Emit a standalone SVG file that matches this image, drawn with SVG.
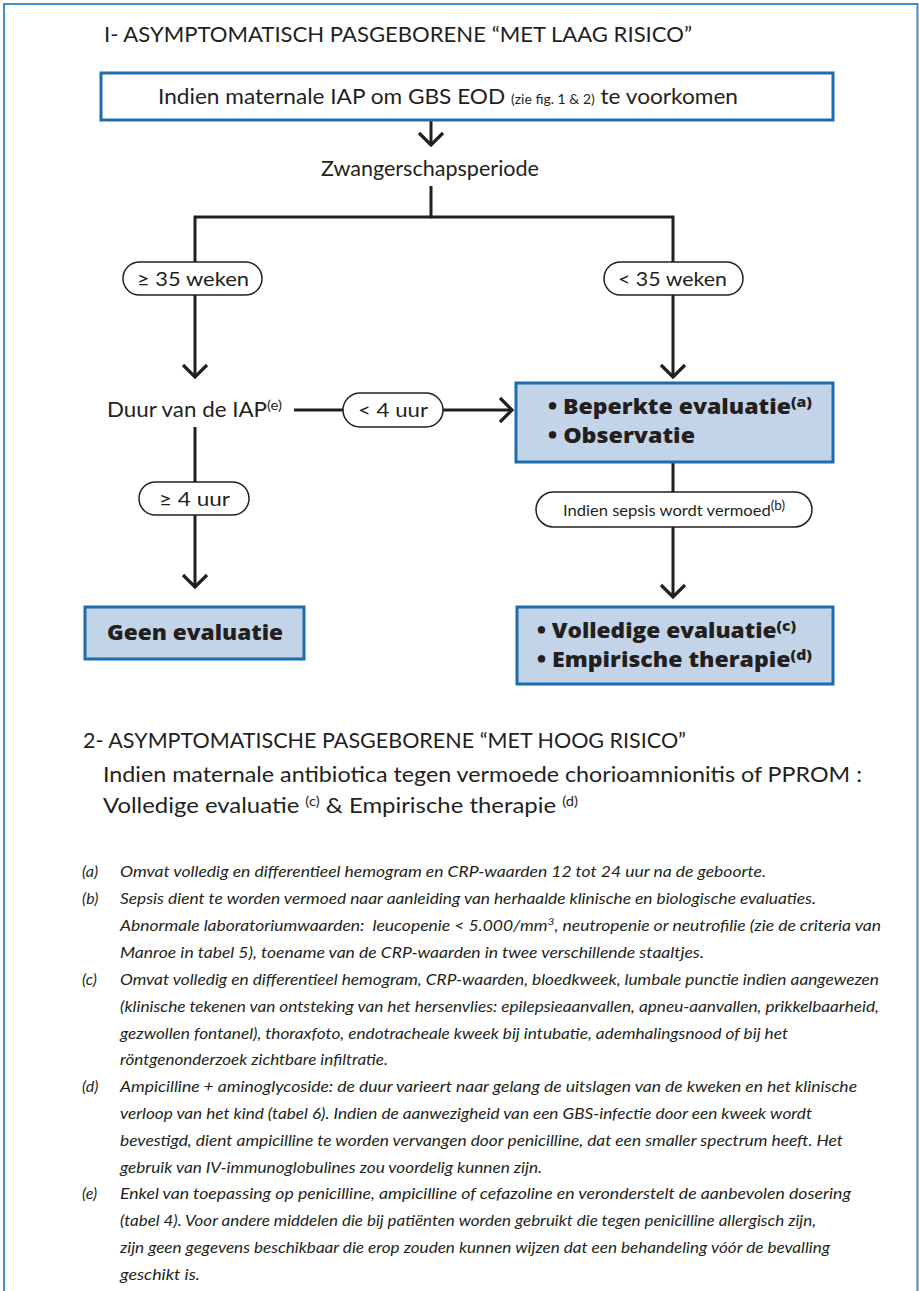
<svg xmlns="http://www.w3.org/2000/svg" width="919" height="1291" viewBox="0 0 919 1291">
<style>
text{font-family:Lato,"Open Sans","Liberation Sans",sans-serif;fill:#231f20}
.t{font-size:21px}
.h{font-size:21px}
.b{font-family:"Open Sans",Lato,sans-serif;font-size:20.5px;font-weight:800}
.p{font-size:20px}
.fn{font-family:"Open Sans","Liberation Sans",sans-serif;font-size:14.5px;font-style:italic;font-weight:400;fill:#333333}
.lb{font-size:16px}
.box{fill:#ffffff;stroke:#1b6db0;stroke-width:3}
.blue{fill:#c3d4e9;stroke:#1b6db0;stroke-width:3}
.pill{fill:#ffffff;stroke:#231f20;stroke-width:1.5}
.ln{fill:none;stroke:#231f20;stroke-width:3}
</style>
<defs>
<marker id="ah" markerUnits="userSpaceOnUse" markerWidth="32" markerHeight="32" viewBox="-16 -16 32 32" refX="0" refY="0" orient="auto">
<path d="M-12,-12 L0,0 L-12,12" fill="none" stroke="#231f20" stroke-width="3.2"/>
</marker>
</defs>
<rect width="919" height="1291" fill="#ffffff"/>
<path d="M4,1291 V4 H917.5 V1291" fill="none" stroke="#3b8fcb" stroke-width="2"/>

<text class="h" x="104" y="42" textLength="588" lengthAdjust="spacingAndGlyphs">I- ASYMPTOMATISCH PASGEBORENE “MET LAAG RISICO”</text>

<g id="connectors">
<path class="ln" d="M431,121 V145" marker-end="url(#ah)"/>
<path class="ln" d="M431,186 V217 H195 V377" marker-end="url(#ah)"/>
<path class="ln" d="M431,217 H673 V377" marker-end="url(#ah)"/>
<path class="ln" d="M294,410 H512" marker-end="url(#ah)"/>
<path class="ln" d="M195,427 V587" marker-end="url(#ah)"/>
<path class="ln" d="M673,463 V597" marker-end="url(#ah)"/>
</g>

<g id="start">
<rect class="box" x="101" y="73" width="732" height="47"/>
<text class="t" x="158" y="104" textLength="580" lengthAdjust="spacingAndGlyphs">Indien maternale IAP om GBS EOD <tspan font-size="13">(zie fig. 1 &amp; 2)</tspan> te voorkomen</text>
</g>

<g id="zwanger">
<text class="t" x="321" y="176" textLength="218" lengthAdjust="spacingAndGlyphs">Zwangerschapsperiode</text>
</g>

<g id="pill-ge35">
<rect class="pill" x="123" y="262" width="139" height="33" rx="16.5"/>
<text class="p" x="137" y="286" textLength="112" lengthAdjust="spacingAndGlyphs">≥ 35 weken</text>
</g>
<g id="pill-lt35">
<rect class="pill" x="604" y="262" width="139" height="33" rx="16.5"/>
<text class="p" x="618" y="286" textLength="109" lengthAdjust="spacingAndGlyphs">&lt; 35 weken</text>
</g>

<g id="duur">
<text class="t" x="107" y="417" textLength="175" lengthAdjust="spacingAndGlyphs">Duur van de IAP<tspan font-size="14" dy="-7">(e)</tspan></text>
</g>

<g id="pill-lt4">
<rect class="pill" x="343" y="393" width="100" height="34" rx="17"/>
<text class="p" x="358" y="417" textLength="70" lengthAdjust="spacingAndGlyphs">&lt; 4 uur</text>
</g>

<g id="beperkte">
<rect class="blue" x="516" y="383" width="317" height="79"/>
<text class="b" x="548" y="414" textLength="264" lengthAdjust="spacingAndGlyphs">• Beperkte evaluatie<tspan font-size="14" dy="-7">(a)</tspan></text>
<text class="b" x="548" y="443" textLength="147" lengthAdjust="spacingAndGlyphs">• Observatie</text>
</g>

<g id="pill-ge4">
<rect class="pill" x="139" y="482" width="110" height="33" rx="16.5"/>
<text class="p" x="159" y="506" textLength="71" lengthAdjust="spacingAndGlyphs">≥ 4 uur</text>
</g>

<g id="pill-sepsis">
<rect class="pill" x="536" y="492" width="276" height="35" rx="17.5"/>
<text x="563" y="516" font-size="16" textLength="222" lengthAdjust="spacingAndGlyphs">Indien sepsis wordt vermoed<tspan font-size="13" dy="-6">(b)</tspan></text>
</g>

<g id="geen">
<rect class="blue" x="85" y="607" width="219" height="52"/>
<text class="b" x="107" y="640" textLength="176" lengthAdjust="spacingAndGlyphs">Geen evaluatie</text>
</g>

<g id="volledige">
<rect class="blue" x="517" y="607" width="316" height="77"/>
<text class="b" x="537" y="638" textLength="259" lengthAdjust="spacingAndGlyphs">• Volledige evaluatie<tspan font-size="14" dy="-7">(c)</tspan></text>
<text class="b" x="537" y="667" textLength="275" lengthAdjust="spacingAndGlyphs">• Empirische therapie<tspan font-size="14" dy="-7">(d)</tspan></text>
</g>

<text class="h" x="83" y="748" textLength="603" lengthAdjust="spacingAndGlyphs">2- ASYMPTOMATISCHE PASGEBORENE “MET HOOG RISICO”</text>
<text class="t" x="103" y="782" textLength="759" lengthAdjust="spacingAndGlyphs">Indien maternale antibiotica tegen vermoede chorioamnionitis of PPROM :</text>
<text class="t" x="103" y="813" textLength="475" lengthAdjust="spacingAndGlyphs">Volledige evaluatie <tspan font-size="13" dy="-7">(c)</tspan><tspan dy="7"> &amp; Empirische therapie </tspan><tspan font-size="13" dy="-7">(d)</tspan></text>

<g id="footnotes" class="fn">
<text class="lb" x="82" y="877">(a)</text>
<text x="120" y="877" textLength="646" lengthAdjust="spacingAndGlyphs">Omvat volledig en differentieel hemogram en CRP-waarden 12 tot 24 uur na de geboorte.</text>
<text class="lb" x="82" y="904">(b)</text>
<text x="120" y="904" textLength="696" lengthAdjust="spacingAndGlyphs">Sepsis dient te worden vermoed naar aanleiding van herhaalde klinische en biologische evaluaties.</text>
<text x="120" y="931" textLength="761" lengthAdjust="spacingAndGlyphs">Abnormale laboratoriumwaarden:&#160; leucopenie &lt; 5.000/mm<tspan font-size="10" dy="-6">3</tspan><tspan dy="6">, neutropenie or neutrofilie (zie de criteria van</tspan></text>
<text x="120" y="958" textLength="584" lengthAdjust="spacingAndGlyphs">Manroe in tabel 5), toename van de CRP-waarden in twee verschillende staaltjes.</text>
<text class="lb" x="82" y="985">(c)</text>
<text x="120" y="985" textLength="759" lengthAdjust="spacingAndGlyphs">Omvat volledig en differentieel hemogram, CRP-waarden, bloedkweek, lumbale punctie indien aangewezen</text>
<text x="120" y="1012" textLength="759" lengthAdjust="spacingAndGlyphs">(klinische tekenen van ontsteking van het hersenvlies: epilepsieaanvallen, apneu-aanvallen, prikkelbaarheid,</text>
<text x="120" y="1039" textLength="668" lengthAdjust="spacingAndGlyphs">gezwollen fontanel), thoraxfoto, endotracheale kweek bij intubatie, ademhalingsnood of bij het</text>
<text x="120" y="1065" textLength="268" lengthAdjust="spacingAndGlyphs">röntgenonderzoek zichtbare infiltratie.</text>
<text class="lb" x="82" y="1092">(d)</text>
<text x="120" y="1092" textLength="737" lengthAdjust="spacingAndGlyphs">Ampicilline + aminoglycoside: de duur varieert naar gelang de uitslagen van de kweken en het klinische</text>
<text x="120" y="1119" textLength="692" lengthAdjust="spacingAndGlyphs">verloop van het kind (tabel 6). Indien de aanwezigheid van een GBS-infectie door een kweek wordt</text>
<text x="120" y="1146" textLength="723" lengthAdjust="spacingAndGlyphs">bevestigd, dient ampicilline te worden vervangen door penicilline, dat een smaller spectrum heeft. Het</text>
<text x="120" y="1173" textLength="422" lengthAdjust="spacingAndGlyphs">gebruik van IV-immunoglobulines zou voordelig kunnen zijn.</text>
<text class="lb" x="82" y="1199">(e)</text>
<text x="120" y="1199" textLength="731" lengthAdjust="spacingAndGlyphs">Enkel van toepassing op penicilline, ampicilline of cefazoline en veronderstelt de aanbevolen dosering</text>
<text x="120" y="1226" textLength="696" lengthAdjust="spacingAndGlyphs">(tabel 4). Voor andere middelen die bij patiënten worden gebruikt die tegen penicilline allergisch zijn,</text>
<text x="120" y="1253" textLength="710" lengthAdjust="spacingAndGlyphs">zijn geen gegevens beschikbaar die erop zouden kunnen wijzen dat een behandeling vóór de bevalling</text>
<text x="120" y="1280" textLength="80" lengthAdjust="spacingAndGlyphs">geschikt is.</text>
</g>
</svg>
